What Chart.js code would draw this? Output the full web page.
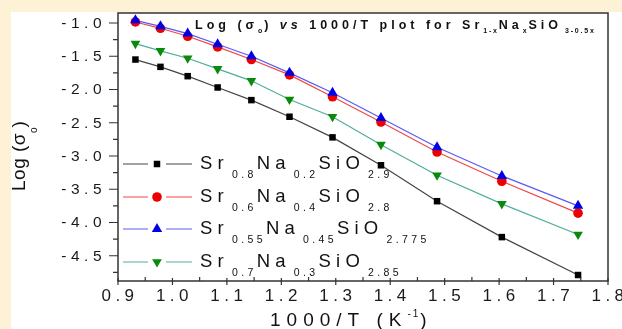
<!DOCTYPE html>
<html>
<head>
<meta charset="utf-8">
<script src="https://cdn.jsdelivr.net/npm/chart.js@4.4.1/dist/chart.umd.min.js"></script>
<style>
  html, body { margin: 0; padding: 0; background: #fdf2d6; }
  canvas { display: block; }
</style>
</head>
<body>
<canvas id="chart" width="622" height="329"></canvas>
<script>
// 1000/T (K^-1), one point per 50 K step
const invTemp = [0.932, 0.978, 1.028, 1.083, 1.145, 1.215, 1.294, 1.383, 1.486, 1.605, 1.745];

// Log(sigma_o)
const logSigmaX02  = [-1.55, -1.66, -1.80, -1.97, -2.16, -2.41, -2.72, -3.14, -3.68, -4.22, -4.79];
const logSigmaX04  = [-0.985, -1.08, -1.20, -1.36, -1.55, -1.78, -2.11, -2.49, -2.94, -3.38, -3.86];
const logSigmaX045 = [-0.96, -1.05, -1.16, -1.32, -1.50, -1.75, -2.05, -2.43, -2.87, -3.30, -3.75];
const logSigmaX03  = [-1.31, -1.42, -1.53, -1.69, -1.87, -2.15, -2.41, -2.83, -3.29, -3.72, -4.18];

// formula pieces, alternating normal text / subscript
const formulas = [
  ['Sr', '0.8', 'Na', '0.2', 'SiO', '2.9'],
  ['Sr', '0.6', 'Na', '0.4', 'SiO', '2.8'],
  ['Sr', '0.55', 'Na', '0.45', 'SiO', '2.775'],
  ['Sr', '0.7', 'Na', '0.3', 'SiO', '2.85']
];

const xTicks = [0.9, 1.0, 1.1, 1.2, 1.3, 1.4, 1.5, 1.6, 1.7, 1.8];
const yTicks = [-1.0, -1.5, -2.0, -2.5, -3.0, -3.5, -4.0, -4.5];

const FONT = 'Arial, "Liberation Sans", sans-serif';

const mkSet = (data, line, fill, style, rot, r, order) => ({
  data: invTemp.map((x, i) => ({ x: x, y: data[i] })),
  borderColor: line,
  borderWidth: 1.2,
  backgroundColor: fill,
  pointBackgroundColor: fill,
  pointBorderColor: fill,
  pointBorderWidth: 0,
  pointStyle: style,
  rotation: rot,
  pointRadius: r,
  tension: 0,
  order: order
});

const datasets = [
  mkSet(logSigmaX02, '#444444', '#000000', 'rect', 0, 4.6, 3),
  mkSet(logSigmaX04, '#f04848', '#ee0000', 'circle', 0, 4.8, 1),
  mkSet(logSigmaX045, '#5a5af0', '#0000e6', 'triangle', 0, 6, 0),
  mkSet(logSigmaX03, '#4fae9c', '#0a8a0a', 'triangle', 180, 5.6, 2)
];

// draw text pieces one after another, with letter spacing
function drawParts(ctx, parts, x, y, st) {
  parts.forEach(p => {
    const kind = p.sub ? st.sub : (p.sup ? st.sup : st.main);
    ctx.font = (p.italic ? 'italic ' : '') + kind.font;
    ctx.letterSpacing = '0px';
    const w = ctx.measureText(p.t).width + kind.spacing * p.t.length;
    ctx.letterSpacing = kind.spacing + 'px';
    x += (p.dx || 0);
    ctx.fillText(p.t, x, y + (kind.dy || 0));
    x += w;
  });
  ctx.letterSpacing = '0px';
  return x;
}

const decorations = {
  id: 'decorations',
  beforeDraw(chart) {
    const ctx = chart.ctx;
    ctx.save();
    ctx.fillStyle = '#fdf2d6';
    ctx.fillRect(0, 0, chart.width, chart.height);
    ctx.fillStyle = '#ffffff';
    ctx.fillRect(11, 12, chart.width - 11, chart.height - 12);
    ctx.restore();
  },
  afterDraw(chart) {
    const ctx = chart.ctx;
    const a = chart.chartArea;
    const xs = chart.scales.x, ys = chart.scales.y;
    ctx.save();

    // frame
    ctx.strokeStyle = '#333333';
    ctx.lineWidth = 1.5;
    ctx.strokeRect(a.left, a.top, a.right - a.left, a.bottom - a.top);

    // ticks
    ctx.lineWidth = 1.2;
    ctx.beginPath();
    for (let v = 0.9; v <= 1.8001; v += 0.05) {
      const px = xs.getPixelForValue(v);
      const major = Math.abs(Math.round(v * 10) - v * 10) < 1e-6;
      ctx.moveTo(px, major ? a.bottom - 3 : a.bottom - 4);
      ctx.lineTo(px, major ? a.bottom + 4 : a.bottom);
    }
    for (let v = -1.0; v >= ys.min; v -= 0.25) {
      const py = ys.getPixelForValue(v);
      const major = Math.abs(Math.round(v * 2) - v * 2) < 1e-6;
      ctx.moveTo(a.left - (major ? 9 : 5), py);
      ctx.lineTo(a.left, py);
    }
    ctx.stroke();

    // tick labels
    ctx.fillStyle = '#1a1a1a';
    ctx.textBaseline = 'middle';
    ctx.font = '15.5px ' + FONT;
    ctx.letterSpacing = '4.5px';
    ctx.textAlign = 'right';
    yTicks.forEach(v => ctx.fillText(v.toFixed(1), 106, ys.getPixelForValue(v) + 0.5));
    ctx.font = '17px ' + FONT;
    ctx.letterSpacing = '4.5px';
    ctx.textAlign = 'center';
    xTicks.forEach(v => ctx.fillText(v.toFixed(1), xs.getPixelForValue(v) + 2, 296));
    ctx.letterSpacing = '0px';

    // axis titles
    ctx.textAlign = 'left';
    ctx.textBaseline = 'alphabetic';
    ctx.fillStyle = '#111111';
    drawParts(ctx, [{ t: '1000/T (K' }, { t: '-1', sup: true }, { t: ')' }], 270, 326, {
      main: { font: '19px ' + FONT, spacing: 6 },
      sup: { font: '10px ' + FONT, spacing: 2, dy: -9 }
    });
    ctx.save();
    ctx.translate(25, 191);
    ctx.rotate(-Math.PI / 2);
    drawParts(ctx, [{ t: 'Log (σ' }, { t: 'o', sub: true }, { t: ')' }], 0, 0, {
      main: { font: '19px ' + FONT, spacing: 0.5 },
      sub: { font: '10px ' + FONT, spacing: 0, dy: 12 }
    });
    ctx.restore();

    // title inside the plot
    drawParts(ctx, [
      { t: 'Log (σ' }, { t: 'o', sub: true }, { t: ') ' }, { t: 'vs', italic: true },
      { t: ' 1000/T plot for Sr' }, { t: '1-x', sub: true }, { t: 'Na' }, { t: 'x', sub: true },
      { t: 'SiO' }, { t: '3-0.5x', sub: true, dx: 3 }
    ], 195, 29, {
      main: { font: 'bold 12.5px ' + FONT, spacing: 4 },
      sub: { font: 'bold 7px ' + FONT, spacing: 1.8, dy: 4 }
    });

    // legend
    const rowY = [164, 197, 229, 262];
    datasets.forEach((ds, i) => {
      const y = rowY[i];
      ctx.strokeStyle = ds.borderColor;
      ctx.lineWidth = 1;
      ctx.beginPath();
      ctx.moveTo(123, y); ctx.lineTo(148, y);
      ctx.moveTo(166, y); ctx.lineTo(192, y);
      ctx.stroke();
      ctx.fillStyle = ds.pointBackgroundColor;
      Chart.helpers.drawPoint(ctx, {
        pointStyle: ds.pointStyle, rotation: ds.rotation,
        radius: ds.pointRadius, borderWidth: 0
      }, 157, y);
      ctx.fillStyle = '#111111';
      const parts = formulas[i].map((t, k) => ({ t: t, sub: k % 2 === 1, dx: k % 2 === 1 ? 3 : 0 }));
      drawParts(ctx, parts, 200, y + 5, {
        main: { font: '18.5px ' + FONT, spacing: 5.2 },
        sub: { font: '10.5px ' + FONT, spacing: 3.4, dy: 9 }
      });
    });

    ctx.restore();
  }
};

new Chart(document.getElementById('chart'), {
  type: 'line',
  data: { datasets: datasets },
  options: {
    responsive: false,
    animation: false,
    devicePixelRatio: 1,
    layout: { padding: { top: 13, right: 14, left: 0, bottom: 0 } },
    plugins: { legend: { display: false }, tooltip: { enabled: false }, title: { display: false } },
    scales: {
      x: {
        type: 'linear', min: 0.9, max: 1.8,
        grid: { display: false }, border: { display: false },
        ticks: { display: false },
        afterFit: s => { s.height = 48; }
      },
      y: {
        type: 'linear', min: -4.88, max: -0.85,
        grid: { display: false }, border: { display: false },
        ticks: { display: false },
        afterFit: s => { s.width = 118; }
      }
    }
  },
  plugins: [decorations]
});
</script>
</body>
</html>
